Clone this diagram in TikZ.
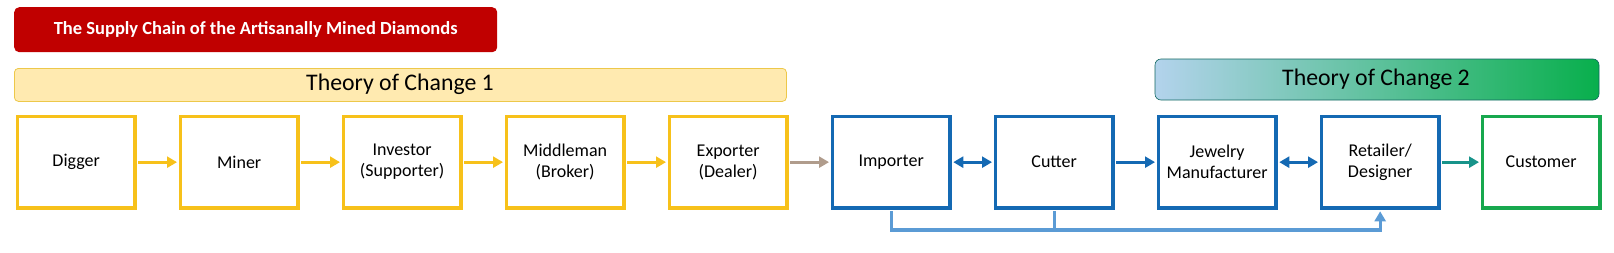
\documentclass[tikz,border=0pt]{standalone}
\usepackage{fontspec}
\setmainfont{Carlito}
\usetikzlibrary{arrows.meta,positioning}
\definecolor{ygold}{HTML}{F7C11A}
\definecolor{bblue}{HTML}{1469B3}
\definecolor{lblue}{HTML}{5B9BD5}
\definecolor{ggreen}{HTML}{17A84E}
\definecolor{tealc}{HTML}{17938A}
\definecolor{brn}{HTML}{B09C8C}
\definecolor{tred}{HTML}{C00000}
\definecolor{tocone}{HTML}{FFEAB0}
\definecolor{toconeb}{HTML}{EDC84A}
\definecolor{toctwoa}{HTML}{B3D3EC}
\definecolor{toctwob}{HTML}{08AF4C}
\tikzset{
  stage/.style={draw, line width=3.3pt, minimum width=117.7pt, minimum height=91.7pt, inner sep=0pt, align=center, font=\fontsize{18}{21}\selectfont, anchor=north west},
  ystage/.style={stage, draw=ygold},
  bstage/.style={stage, draw=bblue},
  gstage/.style={stage, draw=ggreen},
  flow/.style={line width=3.3pt, shorten <=1.65pt, shorten >=1.65pt, -{Triangle[length=10pt,width=11pt]}},
  dflow/.style={line width=3.3pt, shorten <=1.65pt, shorten >=1.65pt, {Triangle[length=10pt,width=11pt]}-{Triangle[length=10pt,width=11pt]}},
}
\begin{document}
\begin{tikzpicture}[x=1pt,y=-1pt]
\useasboundingbox (0,0) rectangle (1614,252);
% title
\node[fill=tred, rounded corners=5pt, minimum width=483pt, minimum height=45pt, anchor=north west, text=white, font=\bfseries\fontsize{18.5}{21}\selectfont] (title) at (14,7) {The Supply Chain of the Artisanally Mined Diamonds};
% theory of change 1
\node[fill=tocone, draw=toconeb, line width=0.8pt, rounded corners=4pt, minimum width=772pt, minimum height=33pt, anchor=north west, inner sep=0pt] (toc1) at (14,68) {};
\node[font=\fontsize{23.8}{27}\selectfont] (toc1t) at (400,84.5) {Theory of Change 1};
% theory of change 2
\shade[left color=toctwoa, right color=toctwob, rounded corners=6pt] (1155,59) rectangle (1599,100);
\draw[draw=tealc!70!black, line width=0.6pt, rounded corners=6pt] (1155,59) rectangle (1599,100);
\node[font=\fontsize{23.8}{27}\selectfont] (toc2) at (1376,79) {Theory of Change 2};
% stages
\node[ystage] (digger) at (15.65,114.65) {Digger};
\node[ystage] (miner) at (178.65,114.65) {Miner};
\node[ystage] (investor) at (341.65,114.65) {Investor\\(Supporter)};
\node[ystage] (middle) at (504.65,114.65) {Middleman\\(Broker)};
\node[ystage] (exporter) at (667.65,114.65) {Exporter\\(Dealer)};
\node[bstage] (importer) at (830.65,114.65) {Importer};
\node[bstage] (cutter) at (993.65,114.65) {Cutter};
\node[bstage] (jewelry) at (1156.65,114.65) {Jewelry\\Manufacturer};
\node[bstage] (retailer) at (1319.65,114.65) {Retailer/\\Designer};
\node[gstage] (customer) at (1480.65,114.65) {Customer};
% arrows
\draw[flow, draw=ygold] (digger) -- (miner);
\draw[flow, draw=ygold] (miner) -- (investor);
\draw[flow, draw=ygold] (investor) -- (middle);
\draw[flow, draw=ygold] (middle) -- (exporter);
\draw[flow, draw=brn] (exporter) -- (importer);
\draw[dflow, draw=bblue] (importer) -- (cutter);
\draw[flow, draw=bblue] (cutter) -- (jewelry);
\draw[dflow, draw=bblue] (jewelry) -- (retailer);
\draw[flow, draw=tealc] (retailer) -- (customer);
% bottom connector
\coordinate (jn) at (cutter.south |- 0,230);
\draw[line width=3.3pt, draw=lblue, shorten <=1.65pt] (importer.south) |- (jn);
\draw[line width=3.3pt, draw=lblue, shorten <=1.65pt, shorten >=1.65pt, -{Triangle[length=10pt,width=11pt]}] (cutter.south) -- (jn) -| (retailer.south);
\end{tikzpicture}
\end{document}
